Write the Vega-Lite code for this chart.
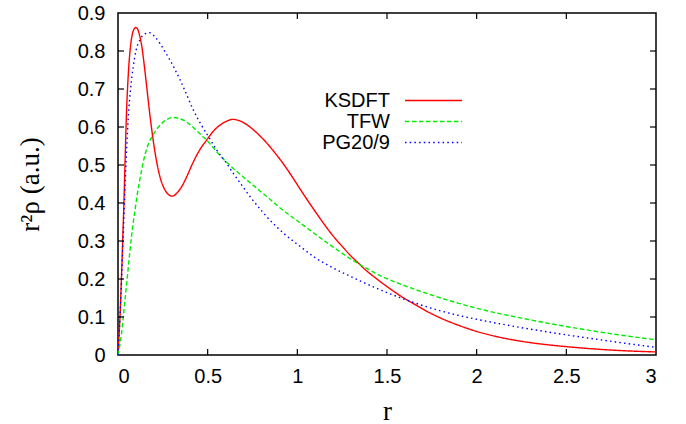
{
  "$schema": "https://vega.github.io/schema/vega-lite/v6.json",
  "width": 538,
  "height": 342,
  "autosize": {"type": "none"},
  "padding": {"left": 118, "top": 13, "right": 30, "bottom": 69},
  "background": "white",
  "config": {
    "view": {"stroke": "black", "strokeWidth": 1.5},
    "axis": {
      "domain": false,
      "ticks": false,
      "grid": false,
      "labelFont": "Liberation Sans",
      "labelFontSize": 20,
      "labelColor": "black",
      "titleFont": "Liberation Serif",
      "titleFontWeight": "normal",
      "titleColor": "black"
    }
  },
  "datasets": {
    "xt": [{"t":0.5},{"t":1},{"t":1.5},{"t":2},{"t":2.5}],
    "yt": [{"t":0.1},{"t":0.2},{"t":0.3},{"t":0.4},{"t":0.5},{"t":0.6},{"t":0.7},{"t":0.8}],
    "curves": [
    {"r":0,"v":0,"s":"KSDFT"},{"r":0.005,"v":0.045,"s":"KSDFT"},{"r":0.011,"v":0.1,"s":"KSDFT"},{"r":0.019,"v":0.2,"s":"KSDFT"},{"r":0.026,"v":0.3,"s":"KSDFT"},{"r":0.033,"v":0.4,"s":"KSDFT"},{"r":0.04,"v":0.52,"s":"KSDFT"},{"r":0.048,"v":0.645,"s":"KSDFT"},{"r":0.057,"v":0.735,"s":"KSDFT"},{"r":0.067,"v":0.8,"s":"KSDFT"},{"r":0.078,"v":0.84,"s":"KSDFT"},{"r":0.09,"v":0.858,"s":"KSDFT"},{"r":0.1,"v":0.862,"s":"KSDFT"},{"r":0.11,"v":0.857,"s":"KSDFT"},{"r":0.12,"v":0.842,"s":"KSDFT"},{"r":0.132,"v":0.815,"s":"KSDFT"},{"r":0.145,"v":0.768,"s":"KSDFT"},{"r":0.16,"v":0.706,"s":"KSDFT"},{"r":0.175,"v":0.643,"s":"KSDFT"},{"r":0.193,"v":0.576,"s":"KSDFT"},{"r":0.21,"v":0.523,"s":"KSDFT"},{"r":0.234,"v":0.469,"s":"KSDFT"},{"r":0.26,"v":0.436,"s":"KSDFT"},{"r":0.28,"v":0.423,"s":"KSDFT"},{"r":0.303,"v":0.418,"s":"KSDFT"},{"r":0.33,"v":0.427,"s":"KSDFT"},{"r":0.36,"v":0.447,"s":"KSDFT"},{"r":0.383,"v":0.469,"s":"KSDFT"},{"r":0.42,"v":0.508,"s":"KSDFT"},{"r":0.46,"v":0.543,"s":"KSDFT"},{"r":0.495,"v":0.566,"s":"KSDFT"},{"r":0.53,"v":0.588,"s":"KSDFT"},{"r":0.569,"v":0.605,"s":"KSDFT"},{"r":0.6,"v":0.614,"s":"KSDFT"},{"r":0.64,"v":0.62,"s":"KSDFT"},{"r":0.69,"v":0.614,"s":"KSDFT"},{"r":0.736,"v":0.6,"s":"KSDFT"},{"r":0.78,"v":0.582,"s":"KSDFT"},{"r":0.829,"v":0.558,"s":"KSDFT"},{"r":0.875,"v":0.532,"s":"KSDFT"},{"r":0.922,"v":0.503,"s":"KSDFT"},{"r":0.97,"v":0.47,"s":"KSDFT"},{"r":1.015,"v":0.437,"s":"KSDFT"},{"r":1.06,"v":0.405,"s":"KSDFT"},{"r":1.108,"v":0.372,"s":"KSDFT"},{"r":1.15,"v":0.344,"s":"KSDFT"},{"r":1.2,"v":0.313,"s":"KSDFT"},{"r":1.25,"v":0.286,"s":"KSDFT"},{"r":1.294,"v":0.263,"s":"KSDFT"},{"r":1.34,"v":0.242,"s":"KSDFT"},{"r":1.378,"v":0.225,"s":"KSDFT"},{"r":1.43,"v":0.205,"s":"KSDFT"},{"r":1.48,"v":0.187,"s":"KSDFT"},{"r":1.53,"v":0.17,"s":"KSDFT"},{"r":1.59,"v":0.151,"s":"KSDFT"},{"r":1.655,"v":0.133,"s":"KSDFT"},{"r":1.73,"v":0.113,"s":"KSDFT"},{"r":1.8,"v":0.097,"s":"KSDFT"},{"r":1.9,"v":0.078,"s":"KSDFT"},{"r":2.0,"v":0.062,"s":"KSDFT"},{"r":2.125,"v":0.047,"s":"KSDFT"},{"r":2.25,"v":0.036,"s":"KSDFT"},{"r":2.375,"v":0.028,"s":"KSDFT"},{"r":2.5,"v":0.022,"s":"KSDFT"},{"r":2.75,"v":0.013,"s":"KSDFT"},{"r":3.0,"v":0.008,"s":"KSDFT"},
    {"r":0,"v":0,"s":"TFW"},{"r":0.005,"v":0.012,"s":"TFW"},{"r":0.02,"v":0.058,"s":"TFW"},{"r":0.039,"v":0.145,"s":"TFW"},{"r":0.053,"v":0.21,"s":"TFW"},{"r":0.067,"v":0.276,"s":"TFW"},{"r":0.08,"v":0.33,"s":"TFW"},{"r":0.095,"v":0.382,"s":"TFW"},{"r":0.11,"v":0.43,"s":"TFW"},{"r":0.125,"v":0.47,"s":"TFW"},{"r":0.141,"v":0.508,"s":"TFW"},{"r":0.165,"v":0.55,"s":"TFW"},{"r":0.193,"v":0.577,"s":"TFW"},{"r":0.234,"v":0.605,"s":"TFW"},{"r":0.27,"v":0.619,"s":"TFW"},{"r":0.305,"v":0.625,"s":"TFW"},{"r":0.35,"v":0.621,"s":"TFW"},{"r":0.4,"v":0.607,"s":"TFW"},{"r":0.457,"v":0.582,"s":"TFW"},{"r":0.495,"v":0.565,"s":"TFW"},{"r":0.55,"v":0.535,"s":"TFW"},{"r":0.606,"v":0.507,"s":"TFW"},{"r":0.643,"v":0.491,"s":"TFW"},{"r":0.7,"v":0.468,"s":"TFW"},{"r":0.75,"v":0.448,"s":"TFW"},{"r":0.829,"v":0.417,"s":"TFW"},{"r":0.92,"v":0.381,"s":"TFW"},{"r":1.015,"v":0.348,"s":"TFW"},{"r":1.1,"v":0.318,"s":"TFW"},{"r":1.2,"v":0.284,"s":"TFW"},{"r":1.29,"v":0.255,"s":"TFW"},{"r":1.378,"v":0.23,"s":"TFW"},{"r":1.47,"v":0.207,"s":"TFW"},{"r":1.573,"v":0.187,"s":"TFW"},{"r":1.684,"v":0.168,"s":"TFW"},{"r":1.8,"v":0.15,"s":"TFW"},{"r":1.9,"v":0.136,"s":"TFW"},{"r":2.0,"v":0.123,"s":"TFW"},{"r":2.25,"v":0.097,"s":"TFW"},{"r":2.5,"v":0.075,"s":"TFW"},{"r":2.75,"v":0.056,"s":"TFW"},{"r":3.0,"v":0.04,"s":"TFW"},
    {"r":0,"v":0,"s":"PG20/9"},{"r":0.005,"v":0.045,"s":"PG20/9"},{"r":0.011,"v":0.1,"s":"PG20/9"},{"r":0.02,"v":0.2,"s":"PG20/9"},{"r":0.028,"v":0.3,"s":"PG20/9"},{"r":0.036,"v":0.4,"s":"PG20/9"},{"r":0.046,"v":0.52,"s":"PG20/9"},{"r":0.058,"v":0.63,"s":"PG20/9"},{"r":0.07,"v":0.7,"s":"PG20/9"},{"r":0.085,"v":0.759,"s":"PG20/9"},{"r":0.1,"v":0.8,"s":"PG20/9"},{"r":0.123,"v":0.83,"s":"PG20/9"},{"r":0.15,"v":0.845,"s":"PG20/9"},{"r":0.178,"v":0.848,"s":"PG20/9"},{"r":0.205,"v":0.838,"s":"PG20/9"},{"r":0.234,"v":0.82,"s":"PG20/9"},{"r":0.26,"v":0.8,"s":"PG20/9"},{"r":0.29,"v":0.776,"s":"PG20/9"},{"r":0.346,"v":0.724,"s":"PG20/9"},{"r":0.372,"v":0.697,"s":"PG20/9"},{"r":0.42,"v":0.645,"s":"PG20/9"},{"r":0.465,"v":0.605,"s":"PG20/9"},{"r":0.504,"v":0.575,"s":"PG20/9"},{"r":0.55,"v":0.54,"s":"PG20/9"},{"r":0.606,"v":0.504,"s":"PG20/9"},{"r":0.643,"v":0.478,"s":"PG20/9"},{"r":0.69,"v":0.447,"s":"PG20/9"},{"r":0.736,"v":0.417,"s":"PG20/9"},{"r":0.8,"v":0.38,"s":"PG20/9"},{"r":0.829,"v":0.364,"s":"PG20/9"},{"r":0.922,"v":0.321,"s":"PG20/9"},{"r":1.015,"v":0.286,"s":"PG20/9"},{"r":1.1,"v":0.256,"s":"PG20/9"},{"r":1.2,"v":0.229,"s":"PG20/9"},{"r":1.3,"v":0.206,"s":"PG20/9"},{"r":1.387,"v":0.187,"s":"PG20/9"},{"r":1.47,"v":0.17,"s":"PG20/9"},{"r":1.573,"v":0.151,"s":"PG20/9"},{"r":1.655,"v":0.137,"s":"PG20/9"},{"r":1.8,"v":0.116,"s":"PG20/9"},{"r":1.9,"v":0.104,"s":"PG20/9"},{"r":2.0,"v":0.094,"s":"PG20/9"},{"r":2.25,"v":0.072,"s":"PG20/9"},{"r":2.5,"v":0.053,"s":"PG20/9"},{"r":2.75,"v":0.036,"s":"PG20/9"},{"r":3.0,"v":0.02,"s":"PG20/9"}
    ]
  },
  "layer": [
    {
      "data": {"name": "curves"},
      "mark": {"type": "line", "interpolate": "monotone", "strokeWidth": 1.4, "clip": true},
      "encoding": {
        "x": {"field": "r", "type": "quantitative",
              "scale": {"domain": [0, 3], "nice": false, "zero": false},
              "axis": {"values": [0, 0.5, 1, 1.5, 2, 2.5, 3], "format": "~g", "labelPadding": 11,
                       "title": "r", "titleFontSize": 27, "titlePadding": 12}},
        "y": {"field": "v", "type": "quantitative",
              "scale": {"domain": [0, 0.9], "nice": false, "zero": false},
              "axis": {"values": [0, 0.1, 0.2, 0.3, 0.4, 0.5, 0.6, 0.7, 0.8, 0.9], "format": "~g", "labelPadding": 13,
                       "title": "r²ρ  (a.u.)", "titleFontSize": 27, "titlePadding": 33}},
        "color": {"field": "s", "type": "nominal",
                  "scale": {"domain": ["KSDFT", "TFW", "PG20/9"], "range": ["#ff0000", "#00ee00", "#0000ff"]},
                  "legend": {"orient": "none", "legendX": 305, "legendY": 77, "title": null,
                             "labelAlign": "right", "labelOffset": -54, "symbolType": "M-3,0H3",
                             "symbolSize": 361, "symbolStrokeWidth": 1.4, "labelFont": "Liberation Sans",
                             "labelFontSize": 20, "labelColor": "black", "rowPadding": 0, "padding": 0}},
        "strokeDash": {"field": "s", "type": "nominal",
                  "scale": {"domain": ["KSDFT", "TFW", "PG20/9"], "range": [[1, 0], [4.5, 2.5], [1.5, 3.2]]},
                  "legend": null}
      }
    },
    {
      "data": {"name": "xt"},
      "mark": {"type": "tick", "orient": "vertical", "color": "#000000", "size": 12, "thickness": 1.2, "opacity": 1, "clip": true},
      "encoding": {
        "x": {"field": "t", "type": "quantitative",
              "axis": {"values": [0, 0.5, 1, 1.5, 2, 2.5, 3], "format": "~g", "labelPadding": 11,
                       "title": "r", "titleFontSize": 27, "titlePadding": 12}},
        "y": {"datum": 0, "type": "quantitative",
              "axis": {"values": [0, 0.1, 0.2, 0.3, 0.4, 0.5, 0.6, 0.7, 0.8, 0.9], "format": "~g", "labelPadding": 13,
                       "title": "r²ρ  (a.u.)", "titleFontSize": 27, "titlePadding": 33}}
      }
    },
    {
      "data": {"name": "xt"},
      "mark": {"type": "tick", "orient": "vertical", "color": "#000000", "size": 12, "thickness": 1.2, "opacity": 1, "clip": true},
      "encoding": {
        "x": {"field": "t", "type": "quantitative",
              "axis": {"values": [0, 0.5, 1, 1.5, 2, 2.5, 3], "format": "~g", "labelPadding": 11,
                       "title": "r", "titleFontSize": 27, "titlePadding": 12}},
        "y": {"datum": 0.9, "type": "quantitative",
              "axis": {"values": [0, 0.1, 0.2, 0.3, 0.4, 0.5, 0.6, 0.7, 0.8, 0.9], "format": "~g", "labelPadding": 13,
                       "title": "r²ρ  (a.u.)", "titleFontSize": 27, "titlePadding": 33}}
      }
    },
    {
      "data": {"name": "yt"},
      "mark": {"type": "tick", "orient": "horizontal", "color": "#000000", "size": 12, "thickness": 1.2, "opacity": 1, "clip": true},
      "encoding": {
        "y": {"field": "t", "type": "quantitative",
              "axis": {"values": [0, 0.1, 0.2, 0.3, 0.4, 0.5, 0.6, 0.7, 0.8, 0.9], "format": "~g", "labelPadding": 13,
                       "title": "r²ρ  (a.u.)", "titleFontSize": 27, "titlePadding": 33}},
        "x": {"datum": 0, "type": "quantitative",
              "axis": {"values": [0, 0.5, 1, 1.5, 2, 2.5, 3], "format": "~g", "labelPadding": 11,
                       "title": "r", "titleFontSize": 27, "titlePadding": 12}}
      }
    },
    {
      "data": {"name": "yt"},
      "mark": {"type": "tick", "orient": "horizontal", "color": "#000000", "size": 12, "thickness": 1.2, "opacity": 1, "clip": true},
      "encoding": {
        "y": {"field": "t", "type": "quantitative",
              "axis": {"values": [0, 0.1, 0.2, 0.3, 0.4, 0.5, 0.6, 0.7, 0.8, 0.9], "format": "~g", "labelPadding": 13,
                       "title": "r²ρ  (a.u.)", "titleFontSize": 27, "titlePadding": 33}},
        "x": {"datum": 3, "type": "quantitative",
              "axis": {"values": [0, 0.5, 1, 1.5, 2, 2.5, 3], "format": "~g", "labelPadding": 11,
                       "title": "r", "titleFontSize": 27, "titlePadding": 12}}
      }
    }
  ]
}
